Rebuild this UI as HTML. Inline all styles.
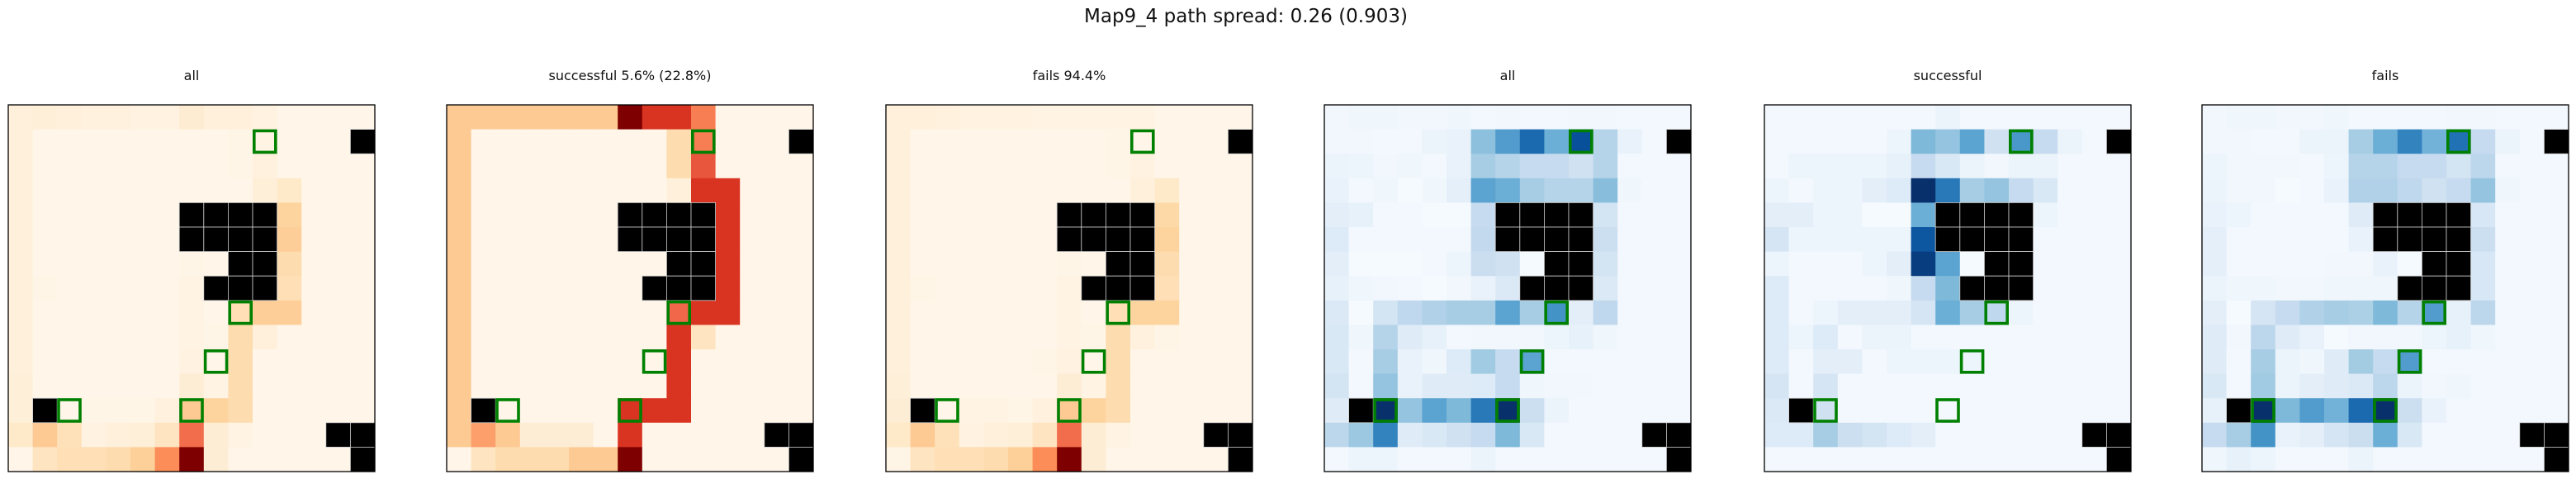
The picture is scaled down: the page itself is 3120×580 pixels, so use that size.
<!DOCTYPE html>
<html><head><meta charset="utf-8">
<style>
html,body{margin:0;padding:0;background:#fff;}
svg{display:block;}
text{font-family:"DejaVu Sans","Liberation Sans",sans-serif;fill:#111;}
</style></head>
<body>
<svg id="chart" width="3120" height="580" viewBox="0 0 3120 580" xmlns="http://www.w3.org/2000/svg">
<text x="1509" y="27" font-size="23" text-anchor="middle">Map9_4 path spread: 0.26 (0.903)</text>
</svg>
<script>
// -1 = obstacle
const X = -1;
const panelTitles = ["all","successful 5.6% (22.8%)","fails 94.4%","all","successful","fails"];
const panelCmaps = ["OrRd","OrRd","OrRd","Blues","Blues","Blues"];
const goalCells = [[1,10],[8,9],[10,8],[12,2],[12,7]];
const p1 = [
[.06,.07,.06,.05,.05,.04,.04,.09,.06,.06,.04,.01,.01,.01,.01],
[.06,.01,.01,.01,.01,.01,.01,.01,.01,.02,.03,.01,.01,.01,X],
[.06,.01,.01,.01,.01,.01,.01,.01,.01,.02,.05,.01,.01,.01,.01],
[.06,.01,.01,.01,.01,.01,.01,.01,.01,.01,.07,.12,.01,.01,.01],
[.06,.01,.01,.01,.01,.01,.01,X,X,X,X,.25,.01,.01,.01],
[.06,.01,.01,.01,.01,.01,.01,X,X,X,X,.28,.01,.01,.01],
[.06,.01,.01,.01,.01,.01,.01,.02,.01,X,X,.2,.01,.01,.01],
[.06,.02,.01,.01,.01,.01,.01,.03,X,X,X,.18,.01,.01,.01],
[.06,.01,.01,.01,.01,.01,.01,.03,.01,.18,.28,.28,.01,.01,.01],
[.06,.01,.01,.01,.01,.01,.01,.03,.02,.2,.06,.01,.01,.01,.01],
[.06,.01,.01,.01,.01,.01,.01,.04,.01,.2,.01,.01,.01,.01,.01],
[.07,.01,.01,.01,.01,.01,.01,.08,.03,.2,.01,.01,.01,.01,.01],
[.07,X,.01,.02,.02,.02,.05,.3,.25,.2,.01,.01,.01,.01,.01],
[.12,.3,.17,.04,.06,.07,.15,.6,.08,.03,.01,.01,.01,X,X],
[.01,.15,.18,.18,.2,.27,.5,1,.08,.01,.01,.01,.01,.01,X]];
const p2 = [
[.3,.3,.3,.3,.3,.3,.3,1,.74,.74,.55,.01,.01,.01,.01],
[.3,.01,.01,.01,.01,.01,.01,.01,.01,.2,.55,.01,.01,.01,X],
[.3,.01,.01,.01,.01,.01,.01,.01,.01,.2,.66,.01,.01,.01,.01],
[.3,.01,.01,.01,.01,.01,.01,.01,.01,.06,.74,.74,.01,.01,.01],
[.3,.01,.01,.01,.01,.01,.01,X,X,X,X,.74,.01,.01,.01],
[.3,.01,.01,.01,.01,.01,.01,X,X,X,X,.74,.01,.01,.01],
[.3,.01,.01,.01,.01,.01,.01,.01,.01,X,X,.74,.01,.01,.01],
[.3,.01,.01,.01,.01,.01,.01,.01,X,X,X,.74,.01,.01,.01],
[.3,.01,.01,.01,.01,.01,.01,.01,.01,.62,.74,.74,.01,.01,.01],
[.3,.01,.01,.01,.01,.01,.01,.01,.01,.74,.15,.01,.01,.01,.01],
[.3,.01,.01,.01,.01,.01,.01,.01,.01,.74,.01,.01,.01,.01,.01],
[.3,.01,.01,.01,.01,.01,.01,.01,.01,.74,.01,.01,.01,.01,.01],
[.3,X,.01,.01,.01,.01,.01,.74,.74,.74,.01,.01,.01,.01,.01],
[.3,.45,.3,.08,.08,.08,.01,.74,.01,.01,.01,.01,.01,X,X],
[.01,.15,.2,.2,.2,.3,.3,1,.01,.01,.01,.01,.01,.01,X]];
const p3 = [
[.06,.06,.05,.04,.04,.04,.03,.03,.03,.03,.03,.01,.01,.01,.01],
[.06,.01,.01,.01,.01,.01,.01,.01,.01,.02,.01,.01,.01,.01,X],
[.06,.01,.01,.01,.01,.01,.01,.01,.01,.02,.04,.01,.01,.01,.01],
[.06,.01,.01,.01,.01,.01,.01,.01,.01,.01,.06,.12,.01,.01,.01],
[.06,.01,.01,.01,.01,.01,.01,X,X,X,X,.22,.01,.01,.01],
[.06,.01,.01,.01,.01,.01,.01,X,X,X,X,.25,.01,.01,.01],
[.06,.01,.01,.01,.01,.01,.01,.02,.01,X,X,.2,.01,.01,.01],
[.06,.02,.01,.01,.01,.01,.01,.03,X,X,X,.18,.01,.01,.01],
[.06,.01,.01,.01,.01,.01,.01,.03,.01,.18,.25,.25,.01,.01,.01],
[.06,.01,.01,.01,.01,.01,.01,.03,.02,.2,.05,.02,.01,.01,.01],
[.06,.01,.01,.01,.01,.01,.02,.04,.01,.2,.01,.01,.01,.01,.01],
[.07,.01,.01,.01,.01,.01,.01,.08,.03,.2,.01,.01,.01,.01,.01],
[.08,X,.01,.03,.03,.02,.05,.3,.25,.2,.01,.01,.01,.01,.01],
[.12,.3,.17,.04,.06,.07,.15,.6,.08,.03,.01,.01,.01,X,X],
[.02,.15,.18,.18,.2,.27,.5,1,.08,.01,.01,.01,.01,.01,X]];
const p4 = [
[.03,.04,.04,.03,.03,.04,.02,.03,.02,.02,.03,.03,.02,.02,.02],
[.03,.03,.02,.02,.06,.07,.42,.58,.78,.5,.88,.3,.07,.02,X],
[.06,.05,.03,.04,.02,.07,.35,.3,.25,.25,.2,.3,.02,.02,.02],
[.07,.02,.04,.01,.04,.09,.55,.5,.35,.3,.3,.43,.04,.02,.02],
[.1,.08,.02,.02,.01,.01,.25,X,X,X,X,.18,.02,.02,.02],
[.13,.02,.02,.02,.02,.02,.26,X,X,X,X,.22,.02,.02,.02],
[.1,.01,.01,.01,.02,.05,.23,.2,.01,X,X,.18,.02,.02,.02],
[.08,.04,.03,.02,.01,.03,.07,.14,X,X,X,.14,.02,.02,.02],
[.14,.01,.18,.27,.32,.35,.35,.55,.35,.62,.1,.27,.02,.02,.02],
[.15,.04,.3,.12,.08,.02,.03,.03,.03,.05,.08,.04,.02,.02,.02],
[.15,.02,.35,.07,.04,.13,.37,.25,.55,.02,.02,.02,.02,.02,.02],
[.18,.02,.4,.07,.12,.12,.13,.25,.04,.03,.03,.02,.02,.02,.02],
[.12,X,1,.4,.55,.45,.72,1,.22,.06,.02,.02,.02,.02,.02],
[.28,.38,.68,.12,.15,.2,.25,.45,.15,.02,.02,.02,.02,X,X],
[.02,.05,.05,.02,.02,.02,.06,.02,.02,.02,.02,.02,.02,.02,X]];
const p5 = [
[.02,.02,.02,.02,.02,.02,.02,.06,.02,.02,.02,.02,.02,.02,.02],
[.02,.02,.02,.02,.02,.05,.45,.4,.55,.2,.6,.25,.06,.02,X],
[.02,.05,.05,.05,.05,.08,.25,.15,.06,.03,.06,.06,.02,.02,.02],
[.05,.02,.05,.05,.1,.13,1,.72,.35,.4,.25,.15,.02,.02,.02],
[.1,.1,.05,.05,.01,.01,.5,X,X,X,X,.05,.02,.02,.02],
[.17,.05,.05,.05,.05,.05,.85,X,X,X,X,.02,.02,.02,.02],
[.05,.02,.02,.02,.05,.1,.95,.55,.01,X,X,.02,.02,.02,.02],
[.13,.02,.02,.02,.02,.04,.25,.45,X,X,X,.02,.02,.02,.02],
[.13,.02,.05,.1,.1,.1,.17,.5,.35,.27,.05,.02,.02,.02,.02],
[.13,.05,.13,.02,.06,.06,.02,.02,.02,.02,.02,.02,.02,.02,.02],
[.13,.02,.1,.1,.02,.05,.05,.05,.05,.02,.02,.02,.02,.02,.02],
[.17,.02,.17,.02,.02,.02,.02,.02,.02,.02,.02,.02,.02,.02,.02],
[.14,X,.2,.02,.02,.02,.02,.02,.02,.02,.02,.02,.02,.02,.02],
[.13,.13,.35,.22,.18,.13,.1,.02,.02,.02,.02,.02,.02,X,X],
[.02,.02,.02,.02,.02,.02,.02,.02,.02,.02,.02,.02,.02,.02,X]];
const p6 = [
[.03,.04,.04,.03,.03,.04,.02,.02,.02,.02,.03,.03,.02,.02,.02],
[.03,.03,.02,.02,.06,.06,.35,.5,.68,.48,.75,.25,.06,.02,X],
[.05,.03,.03,.03,.02,.05,.3,.3,.25,.25,.18,.28,.02,.02,.02],
[.06,.03,.03,.01,.02,.07,.32,.32,.27,.2,.25,.4,.04,.02,.02],
[.07,.05,.02,.02,.02,.02,.12,X,X,X,X,.16,.02,.02,.02],
[.09,.02,.02,.02,.02,.02,.07,X,X,X,X,.22,.02,.02,.02],
[.09,.02,.02,.02,.02,.03,.03,.07,.01,X,X,.16,.02,.02,.02],
[.06,.04,.04,.03,.03,.04,.04,.04,X,X,X,.16,.02,.02,.02],
[.1,.01,.17,.25,.32,.35,.33,.45,.3,.58,.08,.28,.02,.02,.02],
[.12,.03,.28,.12,.07,.01,.03,.03,.03,.05,.08,.04,.02,.02,.02],
[.12,.02,.35,.06,.04,.12,.36,.25,.58,.02,.02,.02,.02,.02,.02],
[.15,.02,.37,.06,.1,.12,.14,.28,.06,.03,.04,.02,.02,.02,.02],
[.08,X,1,.45,.58,.48,.78,1,.22,.07,.02,.02,.02,.02,.02],
[.25,.35,.62,.07,.1,.17,.23,.5,.15,.02,.02,.02,.02,X,X],
[.04,.08,.05,.02,.02,.02,.06,.02,.02,.02,.02,.02,.02,.02,X]];
const panelData = [p1,p2,p3,p4,p5,p6];

const CMAPS = {
  OrRd:["#fff7ec","#fee8c8","#fdd49e","#fdbb84","#fc8d59","#ef6548","#d7301f","#b30000","#7f0000"],
  Blues:["#f7fbff","#deebf7","#c6dbef","#9ecae1","#6baed6","#4292c6","#2171b5","#08519c","#08306b"]
};
function hex(c){return [1,3,5].map(i=>parseInt(c.substr(i,2),16));}
function cmap(name,v){
  const s=CMAPS[name]; v=Math.max(0,Math.min(1,v));
  const f=v*(s.length-1), i=Math.min(s.length-2,Math.floor(f)), t=f-i;
  const a=hex(s[i]), b=hex(s[i+1]);
  return "rgb("+a.map((x,k)=>Math.round(x+(b[k]-x)*t)).join(",")+")";
}
const NS="http://www.w3.org/2000/svg";
const svg=document.getElementById("chart");
const lefts=[10,541,1073,1604,2137,2667];
const top0=127, size=444, N=15, cs=size/N;
function xPos(p,c){return lefts[p]+c*cs;}
function yPos(r){return top0+r*cs;}
function mk(tag,attrs){const e=document.createElementNS(NS,tag);for(const k in attrs)e.setAttribute(k,attrs[k]);return e;}

panelData.forEach((grid,p)=>{
  const g=mk("g",{});
  
  
  svg.appendChild(g);
  const t=mk("text",{x:lefts[p]+size/2,y:97,"font-size":"16","text-anchor":"middle"});
  t.textContent=panelTitles[p];
  
  
  g.appendChild(t);
  grid.forEach((row,r)=>row.forEach((v,c)=>{
    if(v===X) return;
    const rc=mk("rect",{x:xPos(p,c),y:yPos(r),width:cs+0.6,height:cs+0.6,fill:cmap(panelCmaps[p],v)});
    
    
    g.appendChild(rc);
  }));
  grid.forEach((row,r)=>row.forEach((v,c)=>{
    if(v!==X) return;
    const rc=mk("rect",{x:xPos(p,c),y:yPos(r),width:cs,height:cs,fill:"#000",stroke:"#cfcfcf","stroke-width":"0.8"});
    
    
    g.appendChild(rc);
  }));
  goalCells.forEach(([r,c])=>{
    const rc=mk("rect",{x:xPos(p,c)+1.8,y:yPos(r)+1.8,width:cs-3.6,height:cs-3.6,fill:"none",stroke:"#008000","stroke-width":"3.6"});
    
    
    g.appendChild(rc);
  });
  const fr=mk("rect",{x:lefts[p],y:top0,width:size,height:size,fill:"none",stroke:"#000","stroke-width":"1.3"});
  
  
  g.appendChild(fr);
});
</script>
</body></html>
